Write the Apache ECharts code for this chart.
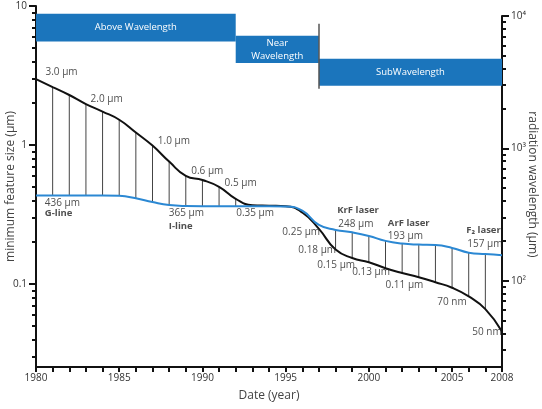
<!DOCTYPE html>
<html>
<head>
<meta charset="utf-8">
<script src="https://cdn.jsdelivr.net/npm/echarts@6/dist/echarts.min.js"></script>
<style>
  html, body { margin: 0; padding: 0; background: #fff; }
  #main { width: 542px; height: 409px; }
</style>
</head>
<body>
<div id="main"></div>
<script>
// lithography roadmap: feature size (left, um) vs exposure wavelength (right, nm)
const years = [1980, 1981, 1982, 1983, 1984, 1985, 1986, 1987, 1988, 1989,
  1990, 1991, 1992, 1993, 1994, 1995, 1996, 1997, 1998, 1999,
  2000, 2001, 2002, 2003, 2004, 2005, 2006, 2007, 2008];

// black curve, minimum feature size (um)
const featureSize = [2.98, 2.61, 2.29, 1.97, 1.74, 1.52, 1.23, 0.99, 0.76, 0.60,
  0.56, 0.50, 0.41, 0.369, 0.366, 0.363, 0.327, 0.249, 0.177, 0.154,
  0.1435, 0.130, 0.120, 0.112, 0.103, 0.094, 0.0815, 0.066, 0.0456];

// blue curve, radiation wavelength (nm)
const wavelength = [440, 440, 440, 440, 440, 438, 420, 393, 373, 367,
  366, 366, 366, 365, 365, 364, 338, 264, 242, 232,
  218, 200, 191, 187.5, 186, 177, 163, 159, 156];

// years that get a vertical connector between the two curves
const hatchYears = [1981, 1982, 1983, 1984, 1985, 1986, 1987, 1988, 1989, 1990, 1991, 1992,
  1998, 1999, 2000, 2001, 2002, 2003, 2004, 2005, 2006, 2007];

// regime bands: [from year, to year, top um, bottom um, text]
const bands = [
  [1980, 1992, 8.8, 5.56, 'Above Wavelength'],
  [1992, 1997, 6.11, 3.89, 'Near\nWavelength'],
  [1997, 2008, 4.18, 2.67, 'SubWavelength']
];
// band separators: [year, top um, bottom um]
const separators = [[1992, 10.4, 3.6], [1997, 7.46, 2.54]];

// text anchors (left edge, middle) in data units
const sizeNotes = [
  [1980.54, 3.33, '3.0 µm'], [1983.25, 2.14, '2.0 µm'], [1987.29, 1.06, '1.0 µm'],
  [1989.3, 0.646, '0.6 µm'], [1991.3, 0.533, '0.5 µm'], [1992.0, 0.324, '0.35 µm'],
  [1994.77, 0.235, '0.25 µm'], [1995.73, 0.174, '0.18 µm'], [1996.87, 0.1377, '0.15 µm'],
  [1998.97, 0.121, '0.13 µm'], [2000.97, 0.0989, '0.11 µm'], [2004.08, 0.0743, '70 nm'],
  [2006.18, 0.0449, '50 nm']
];
const waveNotes = [
  [1980.5, 388, '436 µm'], [1987.95, 323, '365 µm'], [1998.13, 268, '248 µm'],
  [2001.11, 218, '193 µm'], [2005.88, 188, '157 µm']
];
const sourceNotes = [
  [1980.5, 326, 'G-line'], [1987.95, 256, 'I-line'], [1998.07, 342, 'KrF laser'],
  [2001.11, 271, 'ArF laser'], [2005.82, 242, 'F₂ laser']
];

const xLabelValues = [1980, 1985, 1990, 1995, 2000, 2005, 2008];
const leftMajor = [0.1, 1, 10];
const leftMinor = [0.03, 0.04, 0.05, 0.06, 0.07, 0.08, 0.09,
  0.2, 0.3, 0.4, 0.5, 0.6, 0.7, 0.8, 0.9, 2, 3, 4, 5, 6, 7, 8, 9];
const rightMajor = [100, 1000, 10000];
const rightMinor = [30, 40, 50, 60, 70, 80, 90,
  200, 300, 400, 500, 600, 700, 800, 900, 2000, 3000, 4000, 5000, 6000, 7000, 8000, 9000];
const rightLabels = { 100: '10²', 1000: '10³', 10000: '10⁴' };

const FONT = 'Open Sans';
const INK = '#111';
const BAND = '#1b75bc';
const BLUE = '#2b88d3';
const BLUE_IDX = 3;

const chart = echarts.init(document.getElementById('main'));

const axisLineStyle = { show: true, lineStyle: { color: INK, width: 2 } };
const axisNameStyle = { fontFamily: FONT, fontSize: 12, color: '#444' };

function noteSeries(notes, xi, yi, bold) {
  return {
    type: 'scatter', xAxisIndex: xi, yAxisIndex: yi,
    symbolSize: 1, itemStyle: { color: 'rgba(0,0,0,0)' }, silent: true,
    data: notes.map(n => ({ value: [n[0], n[1]], name: n[2] })),
    label: {
      show: true, position: 'right', distance: 0, formatter: '{b}',
      fontFamily: FONT, fontSize: bold ? 9.5 : 10, fontWeight: bold ? 'bold' : 'normal',
      color: '#222'
    },
    z: 5
  };
}

const option = {
  animation: false,
  textStyle: { fontFamily: FONT },
  grid: [
    { left: 36, right: 40, top: 6, bottom: 42, containLabel: false, outerBoundsMode: 'none' },
    { left: 36, right: 40, top: 16, bottom: 42, containLabel: false, outerBoundsMode: 'none' }
  ],
  xAxis: [
    {
      gridIndex: 0, type: 'value', min: 1980, max: 2008,
      name: 'Date (year)', nameLocation: 'middle', nameGap: 23, nameMoveOverlap: false,
      nameTextStyle: axisNameStyle,
      axisLine: axisLineStyle,
      axisTick: { show: true, length: 5, lineStyle: { color: INK, width: 2 }, customValues: years },
      axisLabel: {
        customValues: xLabelValues, fontFamily: FONT, fontSize: 10, color: '#333', margin: 6,
        formatter: v => String(v)
      },
      splitLine: { show: false }
    },
    {
      gridIndex: 1, type: 'value', min: 1980, max: 2008, show: false
    }
  ],
  yAxis: [
    {
      gridIndex: 0, type: 'log', min: 0.0253, max: 10, position: 'left',
      name: 'minimum feature size (µm)', nameLocation: 'middle', nameRotate: 90, nameGap: 19,
      nameMoveOverlap: false,
      nameTextStyle: axisNameStyle,
      axisLine: axisLineStyle,
      axisTick: { show: true, length: 7, lineStyle: { color: INK, width: 2 }, customValues: leftMajor },
      axisLabel: { customValues: leftMajor, fontFamily: FONT, fontSize: 10, color: '#333', margin: 9 },
      splitLine: { show: false }
    },
    {
      gridIndex: 0, type: 'log', min: 0.0253, max: 10, position: 'left',
      axisLine: { show: false },
      axisTick: { show: true, length: 4, lineStyle: { color: INK, width: 2 }, customValues: leftMinor },
      axisLabel: { show: false },
      splitLine: { show: false }
    },
    {
      gridIndex: 1, type: 'log', min: 22.3, max: 10000, position: 'right',
      name: 'radiation wavelength (µm)', nameLocation: 'middle', nameRotate: -90, nameGap: 24,
      nameMoveOverlap: false,
      nameTextStyle: Object.assign({}, axisNameStyle, { padding: [0, 14, 0, 0] }),
      axisLine: axisLineStyle,
      axisTick: { show: true, length: 7, lineStyle: { color: INK, width: 2 }, customValues: rightMajor },
      axisLabel: {
        customValues: rightMajor, fontFamily: FONT, fontSize: 10, color: '#333', margin: 9,
        formatter: v => rightLabels[Math.round(v)] || ''
      },
      splitLine: { show: false }
    },
    {
      gridIndex: 1, type: 'log', min: 22.3, max: 10000, position: 'right',
      axisLine: { show: false },
      axisTick: { show: true, length: 4, lineStyle: { color: INK, width: 2 }, customValues: rightMinor },
      axisLabel: { show: false },
      splitLine: { show: false }
    }
  ],
  series: [
    {
      // carries the regime bands and their separators
      type: 'line', xAxisIndex: 0, yAxisIndex: 0, data: [], silent: true,
      markArea: {
        silent: true,
        itemStyle: { color: BAND },
        label: { show: true, position: 'inside', color: '#fff', fontFamily: FONT, fontSize: 9.5, lineHeight: 13 },
        data: bands.map(b => [
          { coord: [b[0], b[2]], name: b[4] },
          { coord: [b[1], b[3]] }
        ])
      },
      markLine: {
        silent: true, symbol: 'none', label: { show: false },
        lineStyle: { color: '#555', width: 1.5, type: 'solid' },
        data: separators.map(s => [{ coord: [s[0], s[1]] }, { coord: [s[0], s[2]] }])
      },
      z: 1
    },
    {
      // vertical connectors, black end on the left axis, blue end on the right axis
      type: 'custom', xAxisIndex: 0, yAxisIndex: 0, silent: true,
      data: hatchYears.map(y => {
        const i = years.indexOf(y);
        return [y, featureSize[i], wavelength[i]];
      }),
      renderItem: (params, api) => {
        const p1 = api.coord([api.value(0), api.value(1)]);
        const p2 = chart.convertToPixel({ seriesIndex: BLUE_IDX }, [api.value(0), api.value(2)]);
        if (!p2) return null;
        return {
          type: 'line',
          shape: { x1: p1[0], y1: p1[1], x2: p1[0], y2: p2[1] },
          style: { stroke: '#444', lineWidth: 1 }
        };
      },
      z: 2
    },
    {
      type: 'line', xAxisIndex: 0, yAxisIndex: 0,
      data: years.map((y, i) => [y, featureSize[i]]),
      smooth: 0.5, showSymbol: false, silent: true,
      lineStyle: { color: INK, width: 2 }, z: 3
    },
    {
      type: 'line', xAxisIndex: 1, yAxisIndex: 2,
      data: years.map((y, i) => [y, wavelength[i]]),
      smooth: 0.5, showSymbol: false, silent: true,
      lineStyle: { color: BLUE, width: 2 }, z: 4
    },
    noteSeries(sizeNotes, 0, 0, false),
    noteSeries(waveNotes, 1, 2, false),
    noteSeries(sourceNotes, 1, 2, true)
  ]
};

chart.setOption(option);
</script>
</body>
</html>
